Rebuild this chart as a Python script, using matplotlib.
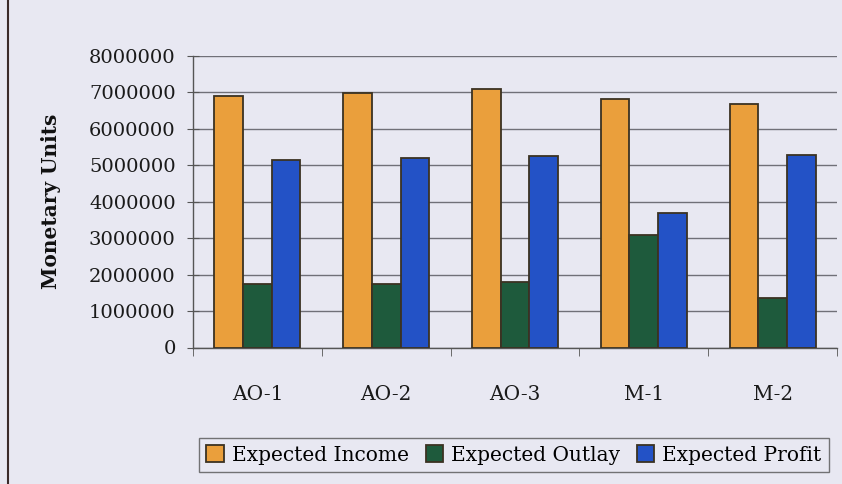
import matplotlib
matplotlib.use("Agg")
import matplotlib.pyplot as plt
import numpy as np

categories = ["AO-1", "AO-2", "AO-3", "M-1", "M-2"]
series_names = ["Expected Income", "Expected Outlay", "Expected Profit"]
expected_income = [6900000, 6970000, 7100000, 6800000, 6670000]
expected_outlay = [1740000, 1740000, 1800000, 3090000, 1350000]
expected_profit = [5140000, 5190000, 5240000, 3690000, 5280000]
yticks = [0, 1000000, 2000000, 3000000, 4000000, 5000000, 6000000, 7000000, 8000000]

colors = ["#EA9F3C", "#1E5A3C", "#2352C6"]
edge = "#3b3222"
bg = "#e8e8f2"

plt.rcParams['font.family'] = ['DejaVu Serif']

fig = plt.figure(figsize=(8.42, 4.84), dpi=100, facecolor=bg)
ax = fig.add_axes([193/842, 1-347.5/484, (837-193)/842, (347.5-55.7)/484])
ax.set_facecolor(bg)

x = np.arange(len(categories))
w = 0.223
for i, (vals, name) in enumerate(zip([expected_income, expected_outlay, expected_profit], series_names)):
    ax.bar(x + (i-1)*w, vals, width=w, color=colors[i], edgecolor=edge, linewidth=1.3,
           label=name, zorder=3)

ax.set_xlim(-0.5, len(categories)-0.5)
ax.set_ylim(0, 8000000)
ax.set_yticks(yticks)
ax.set_yticklabels([str(v) for v in yticks], fontsize=14, color="#1a1a1a")
ax.yaxis.grid(True, color="#707078", linewidth=1.0, zorder=0)
ax.set_axisbelow(True)

ax.set_xticks(x)
ax.set_xticklabels(categories, fontsize=14.5, color="#1a1a1a")
ax.tick_params(axis='x', length=0, pad=27)
ax.set_xticks(np.arange(-0.5, len(categories)), minor=True)
ax.tick_params(axis='x', which='minor', length=6, direction='out', color="#555555")
ax.tick_params(axis='y', length=9, direction='inout', color="#555555", pad=8)

for s in ["top", "right"]:
    ax.spines[s].set_visible(False)
for s in ["left", "bottom"]:
    ax.spines[s].set_color("#555555")
    ax.spines[s].set_linewidth(1.0)

ax.set_ylabel("Monetary Units", fontsize=14.5, fontweight='bold', color="#111111")
ax.yaxis.set_label_coords(-0.205, 0.5)

leg = fig.legend(loc='center', bbox_to_anchor=(514/842, 1-455/484), ncol=3,
                 fontsize=14.5, frameon=True, fancybox=False, handlelength=0.85,
                 handleheight=0.85, handletextpad=0.4, columnspacing=0.85,
                 borderpad=0.35, borderaxespad=0, facecolor=bg, edgecolor="#555555")
leg.get_frame().set_linewidth(1.0)

# page border line at left
fig.add_artist(plt.Line2D([8/842, 8/842], [0, 1], color="#3a2a2a", linewidth=1.5))

fig.savefig("out.png", dpi=100, facecolor=bg)
